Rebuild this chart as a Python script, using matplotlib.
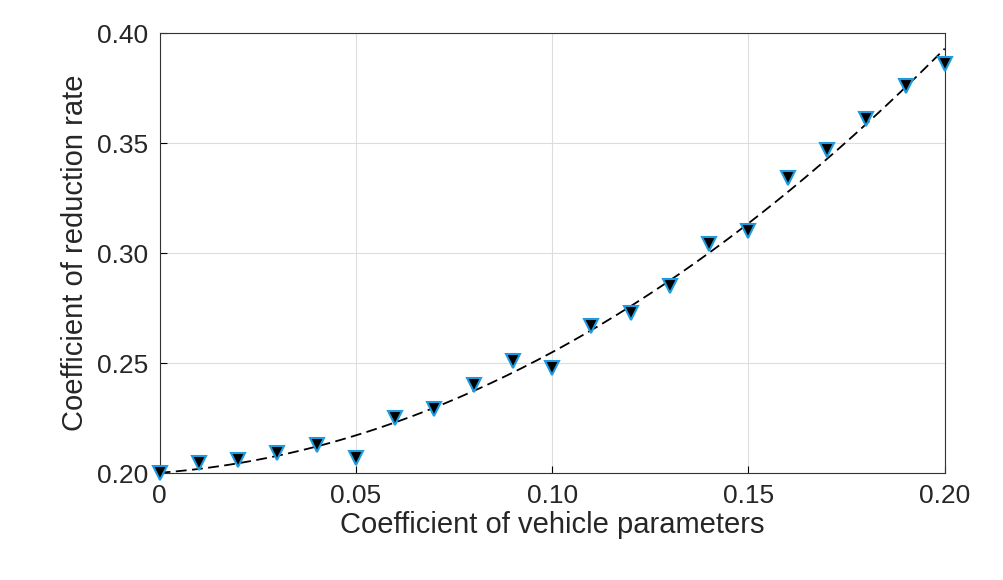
import matplotlib.pyplot as plt
import numpy as np

plt.rcParams['font.family'] = ['Liberation Sans', 'DejaVu Sans']

# Data
x = [0, 0.01, 0.02, 0.03, 0.04, 0.05, 0.06, 0.07, 0.08, 0.09, 0.10,
     0.11, 0.12, 0.13, 0.14, 0.15, 0.16, 0.17, 0.18, 0.19, 0.20]
y = [0.200, 0.2045, 0.206, 0.209, 0.2127, 0.207, 0.225, 0.229, 0.240, 0.251, 0.248,
     0.267, 0.273, 0.285, 0.304, 0.310, 0.334, 0.347, 0.361, 0.376, 0.386]

xticks = [0, 0.05, 0.10, 0.15, 0.20]
xticklabels = ["0", "0.05", "0.10", "0.15", "0.20"]
yticks = [0.20, 0.25, 0.30, 0.35, 0.40]
yticklabels = ["0.20", "0.25", "0.30", "0.35", "0.40"]

# quadratic fit for the dashed curve
coef = np.polyfit(x, y, 2)
xf = np.linspace(0, 0.2, 200)
yf = np.polyval(coef, xf)

fig = plt.figure(figsize=(10.04, 5.8), dpi=100)
ax = fig.add_axes([0.159, 0.184, 0.782, 0.759])

ax.plot(xf, yf, '--', color='black', lw=1.3, dashes=(6, 3), zorder=2)
ax.plot(x, y, 'v', ms=10, markerfacecolor='black', markeredgecolor='#1E9BE0',
        markeredgewidth=1.5, linestyle='none', zorder=3, clip_on=False)

ax.set_xlim(0, 0.2)
ax.set_ylim(0.2, 0.4)
ax.set_xticks(xticks)
ax.set_xticklabels(xticklabels)
ax.set_yticks(yticks)
ax.set_yticklabels(yticklabels)
ax.tick_params(labelsize=19, direction='in', length=5, pad=8, labelcolor='#262626')
ax.grid(True, color='#dddddd', lw=0.8)
ax.set_axisbelow(True)
for s in ax.spines.values():
    s.set_color('#333333')

ax.set_xlabel('Coefficient of vehicle parameters', fontsize=21, labelpad=2, color='#262626')
ax.set_ylabel('Coefficient of reduction rate', fontsize=21, labelpad=6, color='#262626')

fig.savefig('out.png', dpi=100)
